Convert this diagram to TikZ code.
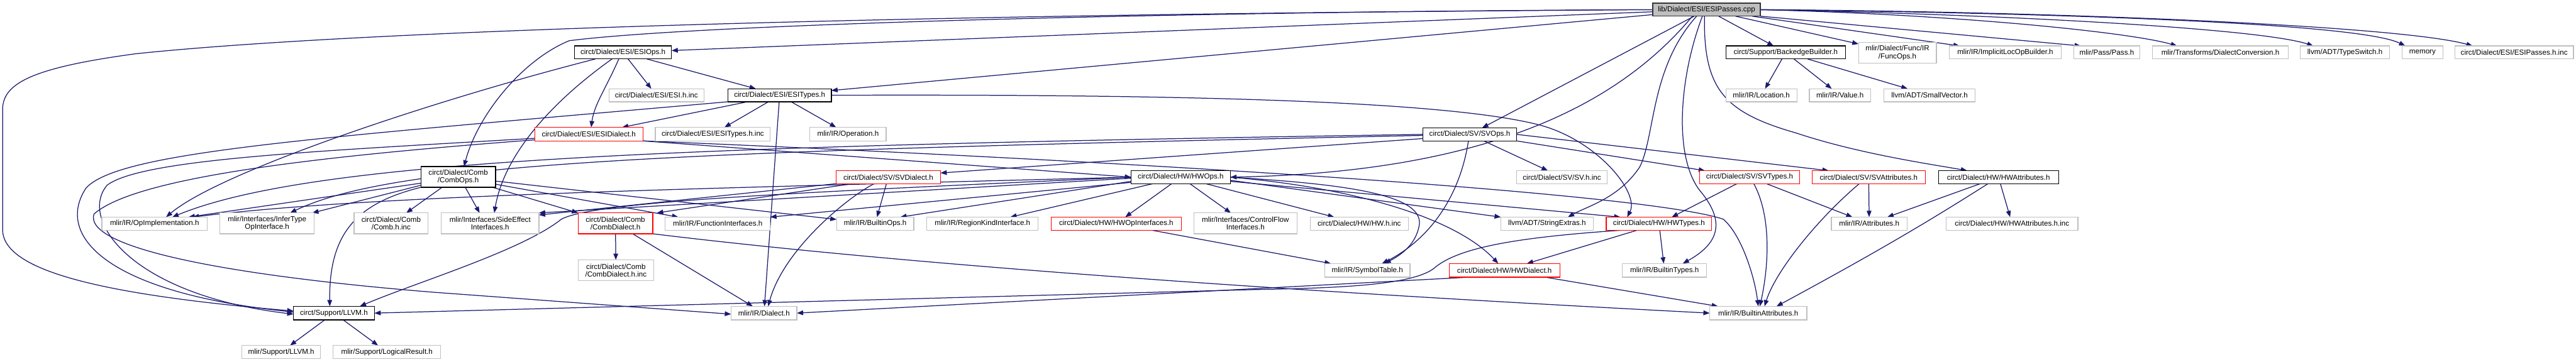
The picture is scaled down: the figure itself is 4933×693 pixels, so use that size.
\documentclass[tikz,border=0pt]{standalone}
\usepackage{fontspec}
\setmainfont{Liberation Sans}
\usetikzlibrary{arrows.meta}
\pgfdeclarelayer{bg}
\pgfsetlayers{bg,main}
\definecolor{edgec}{HTML}{191970}
\definecolor{graybd}{HTML}{BFBFBF}
\definecolor{rootfill}{HTML}{BFBFBF}
\definecolor{redbd}{HTML}{FF0000}
\newcommand\nd[7]{\node[#6, minimum width={(#4-#2)*0.5pt}, minimum height={(#5-#3)*0.5pt}] (#1) at ({(#2+#4)/2},{(#3+#5)/2}) {#7};}
\tikzset{
  box/.style={rectangle, inner sep=0pt, outer sep=0pt, line width=0.75pt, fill=white, align=center, font=\fontsize{7}{7.4}\selectfont},
  gbox/.style={box, draw=graybd},
  bbox/.style={box, draw=black},
  rbox/.style={box, draw=redbd},
  rootbox/.style={box, draw=black!80, fill=rootfill},
  e/.style={draw=edgec, line width=0.75pt, -{Triangle[length=6pt,width=4.5pt]}}
}
\begin{document}
\begin{tikzpicture}[x=0.5pt,y=-0.5pt]
\useasboundingbox (0,0) rectangle (4933,693);
% nodes
\nd{root}{3165}{6}{3371}{31}{rootbox}{lib/Dialect/ESI/ESIPasses.cpp}
\nd{esiops}{1100}{88}{1286}{113}{bbox}{circt/Dialect/ESI/ESIOps.h}
\nd{backedge}{3305}{88}{3534}{113}{bbox}{circt/Support/BackedgeBuilder.h}
\nd{funcops}{3559}{81}{3708}{121}{gbox}{mlir/Dialect/Func/IR\\/FuncOps.h}
\nd{implicit}{3733}{88}{3947}{113}{gbox}{mlir/IR/ImplicitLocOpBuilder.h}
\nd{pass}{3971}{88}{4098}{113}{gbox}{mlir/Pass/Pass.h}
\nd{dconv}{4122}{88}{4382}{113}{gbox}{mlir/Transforms/DialectConversion.h}
\nd{tswitch}{4405}{88}{4576}{113}{gbox}{llvm/ADT/TypeSwitch.h}
\nd{memory}{4600}{88}{4678}{113}{gbox}{memory}
\nd{passinc}{4701}{88}{4928}{113}{gbox}{circt/Dialect/ESI/ESIPasses.h.inc}
\nd{esiinc}{1166}{170}{1348}{195}{gbox}{circt/Dialect/ESI/ESI.h.inc}
\nd{esitypes}{1394}{170}{1592}{195}{bbox}{circt/Dialect/ESI/ESITypes.h}
\nd{location}{3305}{170}{3441}{195}{gbox}{mlir/IR/Location.h}
\nd{value}{3465}{170}{3582}{195}{gbox}{mlir/IR/Value.h}
\nd{smallvec}{3608}{170}{3782}{195}{gbox}{llvm/ADT/SmallVector.h}
\nd{esidialect}{1024}{244}{1231}{270}{rbox}{circt/Dialect/ESI/ESIDialect.h}
\nd{esitypesinc}{1255}{244}{1475}{270}{gbox}{circt/Dialect/ESI/ESITypes.h.inc}
\nd{operation}{1551}{244}{1697}{270}{gbox}{mlir/IR/Operation.h}
\nd{svops}{2725}{245}{2904}{270}{bbox}{circt/Dialect/SV/SVOps.h}
\nd{combops}{806}{319}{949}{359}{bbox}{circt/Dialect/Comb\\/CombOps.h}
\nd{svdialect}{1601}{327}{1801}{352}{rbox}{circt/Dialect/SV/SVDialect.h}
\nd{hwops}{2166}{327}{2356}{352}{bbox}{circt/Dialect/HW/HWOps.h}
\nd{svinc}{2904}{327}{3078}{352}{gbox}{circt/Dialect/SV/SV.h.inc}
\nd{svtypes}{3255}{327}{3446}{352}{rbox}{circt/Dialect/SV/SVTypes.h}
\nd{svattrs}{3470}{327}{3687}{352}{rbox}{circt/Dialect/SV/SVAttributes.h}
\nd{hwattrs}{3712}{327}{3942}{352}{bbox}{circt/Dialect/HW/HWAttributes.h}
\nd{opimpl}{195}{416}{397}{441}{gbox}{mlir/IR/OpImplementation.h}
\nd{infer}{421}{408}{602}{448}{gbox}{mlir/Interfaces/InferType\\OpInterface.h}
\nd{combinc}{678}{408}{820}{448}{gbox}{circt/Dialect/Comb\\/Comb.h.inc}
\nd{sideeff}{845}{408}{1032}{448}{gbox}{mlir/Interfaces/SideEffect\\Interfaces.h}
\nd{combdialect}{1107}{408}{1250}{448}{rbox}{circt/Dialect/Comb\\/CombDialect.h}
\nd{funciface}{1274}{416}{1475}{441}{gbox}{mlir/IR/FunctionInterfaces.h}
\nd{builtinops}{1602}{416}{1750}{441}{gbox}{mlir/IR/BuiltinOps.h}
\nd{regionkind}{1775}{416}{1988}{441}{gbox}{mlir/IR/RegionKindInterface.h}
\nd{hwopiface}{2013}{416}{2262}{441}{rbox}{circt/Dialect/HW/HWOpInterfaces.h}
\nd{ctrlflow}{2286}{408}{2484}{448}{gbox}{mlir/Interfaces/ControlFlow\\Interfaces.h}
\nd{hwinc}{2509}{416}{2697}{441}{gbox}{circt/Dialect/HW/HW.h.inc}
\nd{strextras}{2874}{416}{3051}{441}{gbox}{llvm/ADT/StringExtras.h}
\nd{hwtypes}{3076}{416}{3278}{441}{rbox}{circt/Dialect/HW/HWTypes.h}
\nd{attrs}{3507}{416}{3652}{441}{gbox}{mlir/IR/Attributes.h}
\nd{hwattrsinc}{3727}{416}{3979}{441}{gbox}{circt/Dialect/HW/HWAttributes.h.inc}
\nd{combdinc}{1107}{498}{1252}{538}{gbox}{circt/Dialect/Comb\\/CombDialect.h.inc}
\nd{symtab}{2537}{505}{2700}{531}{gbox}{mlir/IR/SymbolTable.h}
\nd{hwdialect}{2775}{505}{2987}{531}{rbox}{circt/Dialect/HW/HWDialect.h}
\nd{builtintypes}{3107}{505}{3268}{531}{gbox}{mlir/IR/BuiltinTypes.h}
\nd{llvmc}{562}{587}{717}{613}{bbox}{circt/Support/LLVM.h}
\nd{dialect}{1400}{587}{1526}{613}{gbox}{mlir/IR/Dialect.h}
\nd{builtinattrs}{3274}{587}{3460}{613}{gbox}{mlir/IR/BuiltinAttributes.h}
\nd{mllvm}{463}{662}{614}{687}{gbox}{mlir/Support/LLVM.h}
\nd{logres}{638}{662}{844}{687}{gbox}{mlir/Support/LogicalResult.h}
\begin{pgfonlayer}{bg}
\fill[white] (0,0) rectangle (4933,693);
% root edges
\draw[e] (root) -- (esiops);
\draw[e] (root) -- (esitypes);
\draw[e] (root.west) .. controls (2300,22) and (1350,45) .. (1090,78) .. controls (1000,115) and (915,220) .. ([xshift=5.5pt]combops.north);
\draw[e] (root.west) .. controls (1600,28) and (650,62) .. (260,103) .. controls (60,130) and (5,160) .. (5,210) -- (5,440) .. controls (5,520) and (200,565) .. ([yshift=2pt]llvmc.west);
\draw[e] (root) -- (svops);
\draw[e] ([xshift=-13.5pt]root.south) .. controls (3100,200) and (2850,330) .. (hwops.east);
\draw[e] ([xshift=-9.5pt]root.south) .. controls (3160,130) and (3170,260) .. (3140,320) .. controls (3100,380) and (3040,395) .. ([xshift=20pt]strextras.north);
\draw[e] ([xshift=-4pt]root.south) .. controls (3215,150) and (3205,300) .. (3255,365) .. controls (3310,430) and (3285,470) .. ([xshift=17.5pt]builtintypes.north);
\draw[e] ([xshift=-2pt]root.south) .. controls (3262,170) and (3300,215) .. (3440,255) .. controls (3560,295) and (3700,315) .. ([xshift=-30pt]hwattrs.north);
\draw[e] (root) -- (backedge);
\draw[e] (root) -- (funcops);
\draw[e] (root) -- (implicit);
\draw[e] (root.south east) -- ([xshift=7pt]pass.north west);
\draw[e] (root.east) .. controls (3750,28) and (4080,62) .. ([xshift=23.5pt]dconv.north west);
\draw[e] (root.east) .. controls (3850,28) and (4330,55) .. ([xshift=12.5pt]tswitch.north west);
\draw[e] (root.east) .. controls (3950,25) and (4520,45) .. ([xshift=3pt]memory.north west);
\draw[e] (root.east) .. controls (3950,22) and (4600,50) .. ([xshift=17pt]passinc.north west);
% ESIOps
\draw[e] ([xshift=-26.5pt]esiops.south) .. controls (820,195) and (420,330) .. ([xshift=11pt]opimpl.north);
\draw[e] ([xshift=-10.5pt]esiops.south) .. controls (1050,200) and (965,300) .. ([xshift=4pt]sideeff.north);
\draw[e] ([xshift=-4pt]esiops.south) .. controls (1160,170) and (1138,200) .. ([xshift=2.25pt]esidialect.north);
\draw[e] (esiops) -- (esiinc);
\draw[e] (esiops) -- (esitypes);
% ESITypes
\draw[e] (esitypes) -- (esidialect);
\draw[e] (esitypes) -- (esitypesinc);
\draw[e] (esitypes) -- (operation);
\draw[e] (esitypes) -- (dialect);
\draw[e] (esitypes.south west) .. controls (600,265) and (230,290) .. (165,360) .. controls (105,450) and (200,560) .. ([yshift=1pt]llvmc.west);
\draw[e] (esitypes.east) .. controls (2300,180) and (2780,195) .. (2950,240) .. controls (3060,270) and (3140,370) .. ([xshift=20pt]hwtypes.north west);
% ESIDialect
\draw[e] ([yshift=-4pt]esidialect.west) .. controls (600,290) and (270,305) .. (205,355) .. controls (150,420) and (250,565) .. ([yshift=-1pt]llvmc.west);
\draw[e] ([yshift=-5.5pt]esidialect.west) .. controls (600,300) and (260,340) .. (180,410) .. controls (160,470) and (400,525) .. (830,560) -- ([yshift=-1pt]dialect.west);
\draw[e] (esidialect.south east) -- (hwops.west);
\draw[e] (esidialect.south east) .. controls (2200,310) and (3150,370) .. (3300,420) .. controls (3335,450) and (3360,530) .. (builtinattrs.north);
% CombOps
\draw[e] ([yshift=-6pt]combops.west) -- ([xshift=-18pt]opimpl.north east);
\draw[e] ([yshift=-8pt]combops.west) -- ([xshift=-2pt]infer.north east);
\draw[e] ([xshift=-15.5pt]combops.south) -- ([xshift=14.5pt]combinc.north);
\draw[e] (combops.south west) .. controls (680,390) and (630,450) .. ([xshift=-4pt]llvmc.north);
\draw[e] ([xshift=6.75pt]combops.south) -- ([xshift=-10pt]sideeff.north);
\draw[e] ([xshift=33pt]combops.south) -- (combdialect.north west);
\draw[e] ([yshift=-7pt]combops.east) -- ([xshift=12.5pt]funciface.north west);
\draw[e] ([yshift=-4pt]combops.east) -- ([yshift=4pt]builtinops.west);
% CombDialect
\draw[e] (combdialect) -- (combdinc);
\draw[e] (combdialect) -- (dialect);
\draw[e] (combdialect.south east) .. controls (1800,515) and (2600,565) .. (builtinattrs.west);
% SVDialect
\draw[e] (svdialect.south west) -- ([yshift=-2pt]sideeff.north east);
\draw[e] ([xshift=15.5pt]svdialect.south west) -- ([xshift=4pt]combdialect.north east);
\draw[e] ([xshift=-13.5pt]svdialect.south) .. controls (1620,380) and (1500,480) .. ([xshift=4pt]dialect.north);
\draw[e] (svdialect) -- (builtinops);
% HWOps
\draw[e] (hwops.west) .. controls (1300,362) and (700,375) .. ([xshift=-14pt]opimpl.north east);
\draw[e] (hwops.west) .. controls (1550,368) and (1140,385) .. (1075,420) .. controls (1000,480) and (800,540) .. ([xshift=-14pt]llvmc.north east);
\draw[e] ([yshift=-1pt]hwops.west) -- (sideeff.north east);
\draw[e] ([yshift=-4pt]hwops.west) -- ([xshift=24pt]builtinops.north);
\draw[e] ([yshift=-5pt]hwops.west) -- (funciface.north east);
\draw[e] (hwops) -- (regionkind);
\draw[e] (hwops) -- (hwopiface);
\draw[e] (hwops) -- (ctrlflow);
\draw[e] (hwops) -- (hwinc);
\draw[e] (hwops.east) .. controls (2560,352) and (2725,370) .. (2718,430) .. controls (2712,470) and (2680,490) .. ([xshift=16.5pt]symtab.north);
\draw[e] (hwops.east) .. controls (2600,360) and (2790,420) .. ([xshift=-6pt]hwdialect.north);
\draw[e] ([yshift=-3pt]hwops.east) -- (strextras.north west);
\draw[e] ([yshift=-4pt]hwops.east) -- ([xshift=13.5pt]hwtypes.north west);
% SVOps
\draw[e] (svops.west) .. controls (1300,280) and (600,305) .. ([xshift=17pt]opimpl.north);
\draw[e] ([yshift=-1pt]svops.west) .. controls (1300,290) and (760,310) .. ([xshift=22pt]infer.north);
\draw[e] ([yshift=-4pt]svops.west) -- ([yshift=4pt]svdialect.east);
\draw[e] ([xshift=-1.25pt]svops.south) .. controls (2795,380) and (2735,460) .. ([xshift=14pt]symtab.north);
\draw[e] (svops) -- (svinc);
\draw[e] (svops.south east) -- ([xshift=5pt]svtypes.north west);
\draw[e] (svops.east) -- ([xshift=16pt]svattrs.north west);
% SVTypes, SVAttributes, HWAttributes
\draw[e] (svtypes) -- (hwtypes);
\draw[e] ([xshift=4pt]svtypes.south) .. controls (3395,420) and (3385,520) .. ([xshift=1.5pt]builtinattrs.north);
\draw[e] (svtypes) -- (attrs);
\draw[e] (svattrs) -- (attrs);
\draw[e] ([xshift=-9pt]svattrs.south) .. controls (3480,420) and (3400,520) .. ([xshift=6pt]builtinattrs.north);
\draw[e] (hwattrs) -- (attrs);
\draw[e] ([xshift=-10pt]hwattrs.south) .. controls (3700,420) and (3600,480) .. ([xshift=-29pt]builtinattrs.north east);
\draw[e] (hwattrs) -- (hwattrsinc);
% HWTypes, HWDialect, HWOpInterfaces
\draw[e] (hwtypes) -- (hwdialect);
\draw[e] (hwtypes) -- (builtintypes);
\draw[e] ([xshift=16pt]hwtypes.south west) .. controls (2900,455) and (2790,475) .. (2745,515) .. controls (2700,548) and (2550,552) .. (2400,555) -- (llvmc.east);
\draw[e] (hwdialect) -- (builtinattrs);
\draw[e] ([xshift=21pt]hwdialect.south west) -- (dialect.east);
\draw[e] (hwopiface) -- (symtab);
% BackedgeBuilder
\draw[e] (backedge) -- (location);
\draw[e] (backedge) -- (value);
\draw[e] (backedge) -- (smallvec);
% circt LLVM
\draw[e] (llvmc) -- (mllvm);
\draw[e] (llvmc) -- (logres);
\end{pgfonlayer}
\end{tikzpicture}
\end{document}
